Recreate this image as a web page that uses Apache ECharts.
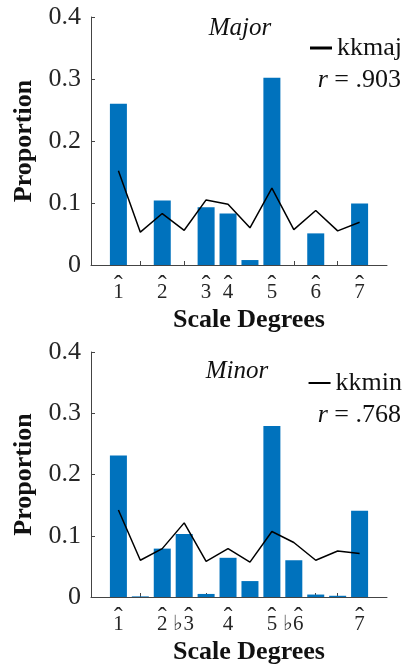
<!DOCTYPE html>
<html>
<head>
<meta charset="utf-8">
<script src="https://cdn.jsdelivr.net/npm/echarts@6/dist/echarts.min.js"></script>
<style>
  html, body { margin: 0; padding: 0; background: #fff; }
  #main { width: 406px; height: 666px; }
</style>
</head>
<body>
<div id="main"></div>
<script>
// semitones above the tonic
const pitches = [0, 1, 2, 3, 4, 5, 6, 7, 8, 9, 10, 11];

// observed proportions per scale degree
const majorProps = [0.260, 0, 0.104, 0, 0.093, 0.083, 0.008, 0.302, 0, 0.051, 0, 0.099];
const minorProps = [0.231, 0.001, 0.079, 0.103, 0.005, 0.064, 0.026, 0.279, 0.060, 0.004, 0.002, 0.141];

// Krumhansl-Kessler key profiles (normalised)
const kkmaj = [0.152, 0.053, 0.083, 0.056, 0.105, 0.098, 0.060, 0.124, 0.057, 0.088, 0.055, 0.069];
const kkmin = [0.142, 0.060, 0.079, 0.121, 0.058, 0.079, 0.057, 0.107, 0.089, 0.060, 0.075, 0.071];

// tick labels
const majorTickPos = [0, 2, 4, 5, 7, 9, 11];
const majorTickText = ['1', '2', '3', '4', '5', '6', '7'];
const minorTickPos = [0, 2, 3, 5, 7, 8, 11];
const minorTickText = ['1', '2', '♭3', '4', '5', '♭6', '7'];

const rMajor = '.903';
const rMinor = '.768';

const SERIF = 'Liberation Serif';
const INK = '#262626';
const BLUE = '#0072BD';

const chart = echarts.init(document.getElementById('main'));

function degreeLabel(pos, text) {
  return function (v) {
    const i = pos.indexOf(Math.round(v));
    if (i < 0) return '';
    const t = text[i];
    if (t[0] === '♭') return '{fp| }{h|ˆ}\n{fl|♭}{n|' + t.slice(1) + '}';
    return '{h|ˆ}\n{n|' + t + '}';
  };
}

// hat sits on a very thin first line so it lands just above the digit
const degreeRich = {
  h: { fontFamily: SERIF, fontSize: 26, width: 12, align: 'center', lineHeight: 1, color: INK },
  n: { fontFamily: SERIF, fontSize: 21, width: 12, align: 'center', lineHeight: 10, color: INK },
  fp: { fontFamily: SERIF, fontSize: 21, width: 9, align: 'center', lineHeight: 1 },
  fl: { fontFamily: SERIF, fontSize: 21, width: 9, align: 'center', lineHeight: 10, color: INK }
};

function xAxisFor(gridIndex, pos, text) {
  return {
    type: 'value', gridIndex: gridIndex, min: -1.25, max: 12.25,
    name: 'Scale Degrees', nameLocation: 'middle', nameGap: 42,
    nameTextStyle: { fontFamily: SERIF, fontWeight: 'bold', fontSize: 26, color: '#111', padding: [0, 0, 0, 20] },
    axisLine: { onZero: false, lineStyle: { color: '#444', width: 1 } },
    axisTick: { show: true, inside: true, length: 4, customValues: pitches, lineStyle: { color: '#444' } },
    axisLabel: { customValues: pos, formatter: degreeLabel(pos, text), rich: degreeRich, margin: 21 },
    splitLine: { show: false }
  };
}

function yAxisFor(gridIndex) {
  return {
    type: 'value', gridIndex: gridIndex, min: 0, max: 0.4, interval: 0.1,
    name: 'Proportion', nameLocation: 'middle', nameGap: 51, nameRotate: 90,
    nameTextStyle: { fontFamily: SERIF, fontWeight: 'bold', fontSize: 26, color: '#111' },
    axisLine: { show: true, onZero: false, lineStyle: { color: '#444', width: 1 } },
    axisTick: { show: true, inside: true, length: 4, lineStyle: { color: '#444' } },
    axisLabel: {
      fontFamily: SERIF, fontSize: 26, color: INK, margin: 10,
      formatter: v => (v === 0 ? '0' : v.toFixed(1))
    },
    splitLine: { show: false }
  };
}

function pairs(vals) {
  return pitches.map((p, i) => [p, vals[i]]);
}

chart.setOption({
  animation: false,
  backgroundColor: '#fff',
  grid: [
    { left: 91, right: 19, top: 17, height: 248 },
    { left: 91, right: 19, top: 352, height: 247 }
  ],
  title: [
    { text: 'Major', left: 240, top: 16, textAlign: 'center', padding: 0,
      textStyle: { fontFamily: SERIF, fontStyle: 'italic', fontWeight: 'normal', fontSize: 25, color: '#111' } },
    { text: 'Minor', left: 237, top: 359, textAlign: 'center', padding: 0,
      textStyle: { fontFamily: SERIF, fontStyle: 'italic', fontWeight: 'normal', fontSize: 25, color: '#111' } },
    { text: '{i|r} = ' + rMajor, right: 5, top: 67, padding: 0,
      textStyle: { fontFamily: SERIF, fontWeight: 'normal', fontSize: 26, color: '#111',
        rich: { i: { fontFamily: SERIF, fontStyle: 'italic', fontSize: 26, color: '#111' } } } },
    { text: '{i|r} = ' + rMinor, right: 5, top: 402, padding: 0,
      textStyle: { fontFamily: SERIF, fontWeight: 'normal', fontSize: 26, color: '#111',
        rich: { i: { fontFamily: SERIF, fontStyle: 'italic', fontSize: 26, color: '#111' } } } }
  ],
  legend: [
    { data: ['kkmaj'], right: 4, top: 35, padding: 0, icon: 'rect', itemWidth: 22, itemHeight: 3,
      textStyle: { fontFamily: SERIF, fontSize: 26, color: '#111' } },
    { data: ['kkmin'], right: 4, top: 370, padding: 0, icon: 'rect', itemWidth: 22, itemHeight: 2,
      textStyle: { fontFamily: SERIF, fontSize: 26, color: '#111' } }
  ],
  xAxis: [
    xAxisFor(0, majorTickPos, majorTickText),
    xAxisFor(1, minorTickPos, minorTickText)
  ],
  yAxis: [yAxisFor(0), yAxisFor(1)],
  series: [
    { type: 'bar', name: 'major', xAxisIndex: 0, yAxisIndex: 0, barWidth: 17,
      itemStyle: { color: BLUE }, data: pairs(majorProps) },
    { type: 'line', name: 'kkmaj', xAxisIndex: 0, yAxisIndex: 0, showSymbol: false, symbol: 'none',
      color: '#000', lineStyle: { color: '#000', width: 1.5 }, itemStyle: { color: '#000' },
      data: pairs(kkmaj) },
    { type: 'bar', name: 'minor', xAxisIndex: 1, yAxisIndex: 1, barWidth: 17,
      itemStyle: { color: BLUE }, data: pairs(minorProps) },
    { type: 'line', name: 'kkmin', xAxisIndex: 1, yAxisIndex: 1, showSymbol: false, symbol: 'none',
      color: '#000', lineStyle: { color: '#000', width: 1.5 }, itemStyle: { color: '#000' },
      data: pairs(kkmin) }
  ]
});
</script>
</body>
</html>
